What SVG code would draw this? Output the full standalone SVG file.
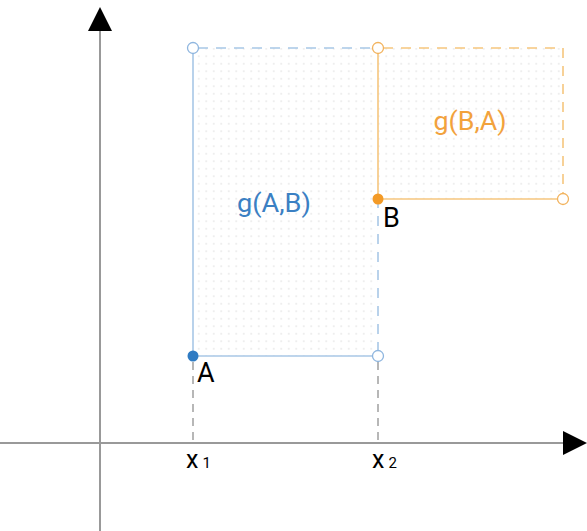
<svg xmlns="http://www.w3.org/2000/svg" width="587" height="531" viewBox="0 0 587 531">
<defs>
<pattern id="dots" x="0" y="0" width="7.5" height="7.5" patternUnits="userSpaceOnUse">
<circle cx="3.75" cy="3.75" r="0.7" fill="#d4d4d4"/>
</pattern>
<marker id="arr" viewBox="0 0 24 24" markerWidth="24" markerHeight="24" refX="0" refY="12" orient="auto" markerUnits="userSpaceOnUse">
<path d="M0,0 L24,12 L0,24 Z" fill="#000"/>
</marker>
</defs>
<style>
.axis{stroke:#999;stroke-width:2;fill:none}
.guide{stroke:#888;stroke-width:1.2;stroke-dasharray:8,6;fill:none}
.bl{stroke:#a8c7e6;stroke-width:1.6;fill:none}
.or{stroke:#f6c67e;stroke-width:1.6;fill:none}
.dash{stroke-dasharray:10,8}
.t{font-family:Roboto,"Liberation Sans",sans-serif}
.open-b{fill:#fff;stroke:#8fb6df;stroke-width:1.3}
.open-o{fill:#fff;stroke:#f2b35e;stroke-width:1.3}
</style>
<g id="regions">
<rect x="193" y="48" width="185" height="308" fill="url(#dots)"/>
<rect x="378" y="48" width="185" height="151" fill="url(#dots)"/>
</g>
<g id="connectors">
<line class="axis" x1="100" y1="531" x2="100" y2="31" marker-end="url(#arr)"/>
<line class="axis" x1="0" y1="443" x2="563" y2="443" marker-end="url(#arr)"/>
<line class="guide" x1="193" y1="362" x2="193" y2="443"/>
<line class="guide" x1="378" y1="362" x2="378" y2="443"/>
</g>
<g id="gAB">
<line class="bl" x1="193" y1="48" x2="193" y2="356"/>
<line class="bl" x1="193" y1="356" x2="378" y2="356"/>
<line class="bl dash" x1="198" y1="48" x2="373" y2="48"/>
<line class="bl dash" x1="378" y1="352" x2="378" y2="204"/>
<text class="t" x="274" y="212" font-size="25" fill="#3b80c3" text-anchor="middle" textLength="74" lengthAdjust="spacingAndGlyphs">g(A,B)</text>
</g>
<g id="gBA">
<line class="or" x1="378" y1="48" x2="378" y2="199"/>
<line class="or" x1="378" y1="199" x2="563" y2="199"/>
<line class="or dash" x1="383" y1="48" x2="563" y2="48"/>
<line class="or dash" x1="563" y1="48" x2="563" y2="194"/>
<text class="t" x="470" y="130" font-size="25" fill="#f2a23c" text-anchor="middle" textLength="73" lengthAdjust="spacingAndGlyphs">g(B,A)</text>
</g>
<g id="points">
<circle class="open-b" cx="193" cy="48" r="5.5"/>
<circle class="open-b" cx="378" cy="356" r="5.5"/>
<circle class="open-o" cx="378" cy="48" r="5.5"/>
<circle class="open-o" cx="563" cy="199" r="5.5"/>
</g>
<g id="A">
<circle cx="193" cy="356" r="5.5" fill="#2f7bc3"/>
<text class="t" x="197" y="382" font-size="27" fill="#000">A</text>
</g>
<g id="B">
<circle cx="378" cy="199" r="5.5" fill="#f39a26"/>
<text class="t" x="383" y="227" font-size="27" fill="#000">B</text>
</g>
<g id="x1">
<text class="t" x="186" y="468" font-size="25" fill="#000">x<tspan font-size="15" dx="4">1</tspan></text>
</g>
<g id="x2">
<text class="t" x="372" y="468" font-size="25" fill="#000">x<tspan font-size="15" dx="4">2</tspan></text>
</g>
</svg>
